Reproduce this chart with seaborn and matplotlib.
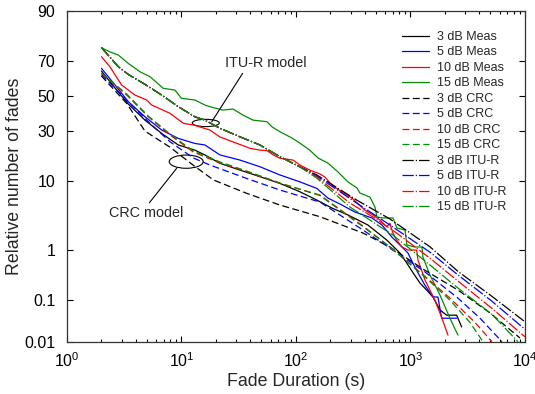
import math
from statistics import NormalDist
import numpy as np
import pandas as pd
import matplotlib
matplotlib.use("Agg")
import matplotlib.pyplot as plt
from matplotlib.patches import Ellipse
import seaborn as sns

# ---------------- data ----------------
# Fade duration (s) and relative number of fades (%)
meas3_x = [2.0, 2.63, 3.43, 4.80, 6.71, 9.38, 13.1, 16.0, 21.7, 32.4, 48.5, 72.4, 108, 152, 206, 285, 425, 620, 809, 926, 1058, 1211, 1385, 1573, 1811, 2070, 2533, 2800]
meas3_y = [64.6, 54.7, 45.1, 35.7, 28.5, 22.9, 20.6, 18.6, 15.4, 13.1, 11.1, 9.3, 7.37, 5.77, 4.5, 3.59, 2.55, 1.47, 0.88, 0.58, 0.37, 0.234, 0.167, 0.118, 0.061, 0.046, 0.046, 0.024]

meas5_x = [2.0, 2.63, 3.43, 4.80, 6.71, 9.38, 13.1, 16.0, 21.7, 32.4, 48.5, 72.4, 108, 152, 190, 252, 327, 461, 564, 689, 843, 951, 1094, 1339, 1573, 1739, 1873, 2533]
meas5_y = [66.1, 56.5, 46.5, 37.6, 30.3, 26.0, 23.6, 22.9, 18.6, 16.6, 14.2, 11.6, 9.7, 8.1, 6.13, 4.95, 3.96, 3.25, 2.55, 1.64, 1.12, 0.88, 0.48, 0.21, 0.12, 0.118, 0.039, 0.039]

meas10_x = [2.0, 2.37, 3.0, 3.92, 4.97, 5.49, 7.94, 10.4, 12.7, 17.7, 21.7, 28.3, 39.7, 48.5, 55.8, 63.4, 72.4, 94.2, 108, 132, 162, 179, 206, 252, 308, 401, 470, 542, 620, 662, 703, 757, 838, 951, 1133, 1163, 1339, 1637, 1884, 2127]
meas10_y = [72.3, 67.0, 56.5, 50.5, 47.5, 44.5, 39.6, 33.9, 33.0, 30.3, 26.7, 24.3, 21.4, 20.6, 20.4, 18.6, 17.3, 16.6, 14.8, 13.1, 11.9, 11.0, 8.9, 7.3, 6.13, 4.2, 3.59, 3.03, 2.4, 2.7, 1.91, 1.47, 1.13, 0.99, 0.99, 0.655, 0.27, 0.10, 0.039, 0.015]

meas15_x = [2.0, 2.37, 2.81, 3.43, 4.34, 5.31, 6.94, 8.77, 10.0, 13.1, 16.0, 17.7, 23.0, 28.2, 34.4, 42.1, 55.8, 61.7, 72.4, 92.3, 108, 132, 156, 169, 190, 233, 285, 341, 362, 443, 490, 510, 575, 703, 762, 896, 932, 1094, 1260, 1286, 1480, 1811, 2213, 2600]
meas15_y = [76.6, 74.7, 73.1, 68.8, 64.2, 61.4, 54.5, 53.5, 48.5, 47.5, 44.5, 43.5, 41.5, 42.1, 38.6, 35.7, 34.8, 32.0, 29.4, 26.2, 23.8, 20.6, 17.4, 16.6, 15.5, 12.5, 9.65, 8.2, 7.1, 6.3, 4.65, 3.36, 3.25, 3.25, 2.29, 2.13, 1.21, 1.12, 1.12, 0.74, 0.34, 0.131, 0.039, 0.015]

crc3_x = [2.0, 3.32, 4.80, 7.94, 12.6, 19.0, 37.1, 72.4, 162, 385, 662, 1339, 2600, 4947, 9040]
crc3_y = [61.8, 45.5, 29.7, 21.9, 14.8, 10.2, 7.04, 4.95, 3.39, 1.91, 1.12, 0.42, 0.167, 0.052, 0.0127]

crc5_x = [2.0, 3.32, 5.31, 7.94, 12.7, 17.7, 37.1, 72.4, 162, 385, 662, 1339, 2600, 4050, 6295]
crc5_y = [62.6, 47.5, 33.9, 24.4, 17.4, 14.8, 10.6, 7.74, 5.43, 2.13, 1.07, 0.39, 0.112, 0.039, 0.0102]

crc10_x = [2.0, 3.32, 5.13, 7.94, 12.7, 21.7, 37.1, 72.4, 162, 385, 662, 1339, 2213, 3657, 5150]
crc10_y = [63.2, 50.5, 37.6, 27.7, 19.8, 15.5, 12.6, 9.3, 6.7, 2.46, 1.12, 0.32, 0.112, 0.031, 0.0102]

crc15_x = [2.0, 3.32, 5.13, 7.94, 12.7, 21.7, 37.1, 72.4, 162, 385, 662, 1339, 2213, 3309, 4296]
crc15_y = [63.5, 51.1, 38.0, 28.2, 20.2, 15.9, 12.8, 9.4, 6.6, 2.4, 1.12, 0.31, 0.101, 0.031, 0.0102]

itu_common_x = [2.0, 2.81, 3.43, 4.80, 6.71, 9.38, 13.1, 16.0, 21.7, 32.4, 48.5, 72.4, 108]
itu_common_y = [76.7, 67.0, 62.7, 56.9, 50.5, 43.5, 37.6, 35.7, 31.2, 26.8, 22.9, 17.9, 14.2]

itu3_x = itu_common_x + [152, 339, 662, 1480, 2600, 5117, 10000]
itu3_y = itu_common_y + [11.6, 5.77, 3.14, 1.13, 0.40, 0.124, 0.032]

itu5_x = itu_common_x + [152, 339, 662, 1480, 2600, 5117, 10000]
itu5_y = itu_common_y + [11.3, 5.26, 2.55, 0.91, 0.34, 0.097, 0.021]

itu10_x = itu_common_x + [152, 296, 470, 757, 1480, 2600, 5117, 10000]
itu10_y = itu_common_y + [11.0, 5.26, 3.36, 1.91, 0.71, 0.257, 0.067, 0.0136]

itu15_x = itu_common_x + [152, 296, 470, 703, 1480, 2600, 5117, 8686]
itu15_y = itu_common_y + [10.7, 4.65, 2.83, 1.77, 0.53, 0.184, 0.049, 0.0102]

series_labels = ["3 dB Meas", "5 dB Meas", "10 dB Meas", "15 dB Meas",
                 "3 dB CRC", "5 dB CRC", "10 dB CRC", "15 dB CRC",
                 "3 dB ITU-R", "5 dB ITU-R", "10 dB ITU-R", "15 dB ITU-R"]
series_x = [meas3_x, meas5_x, meas10_x, meas15_x, crc3_x, crc5_x, crc10_x, crc15_x,
            itu3_x, itu5_x, itu10_x, itu15_x]
series_y = [meas3_y, meas5_y, meas10_y, meas15_y, crc3_y, crc5_y, crc10_y, crc15_y,
            itu3_y, itu5_y, itu10_y, itu15_y]

y_ticks = [0.01, 0.1, 1, 10, 30, 50, 70, 90]
y_tick_labels = ["0.01", "0.1", "1", "10", "30", "50", "70", "90"]

# annotations (data coordinates)
itu_text_pos = (54.5, 68.8)
itu_ellipse_center = (16.3, 34.1)
itu_leader = ([18.4, 34.2], [34.8, 63.3])
crc_text_pos = (4.88, 3.8)
crc_ellipse_center = (11.0, 16.0)
crc_leader = ([9.08, 5.24], [13.7, 5.3])

# ---------------- styling ----------------
sns.set_style("ticks")
plt.rcParams["font.family"] = ["Liberation Sans", "DejaVu Sans"]
plt.rcParams["mathtext.fontset"] = "custom"
plt.rcParams["mathtext.rm"] = "Liberation Sans"
plt.rcParams["mathtext.it"] = "Liberation Sans:italic"
plt.rcParams["mathtext.bf"] = "Liberation Sans:bold"

colors = ["#000000", "#0000ff", "#ff0000", "#008f00"]
solid = "-"
dashed = (0, (5.5, 2.8))
dashdot = (0, (9, 1.6, 1.0, 1.6))

_nd = NormalDist()
_ppf = np.vectorize(_nd.inv_cdf, otypes=[float])
_erf = np.vectorize(math.erf, otypes=[float])


def fwd(p):
    p = np.clip(np.asarray(p, dtype=float), 1e-7, 100 - 1e-7)
    return _ppf(p / 100.0)


def inv(z):
    z = np.asarray(z, dtype=float)
    return 100.0 * 0.5 * (1.0 + _erf(z / math.sqrt(2.0)))


fig = plt.figure(figsize=(5.35, 3.94), dpi=100)
ax = fig.add_axes([0.1252, 0.132, 0.856, 0.840])
ax.set_xscale("log")
ax.set_yscale("function", functions=(fwd, inv))

handles = []
for i, (lab, xs, ys) in enumerate(zip(series_labels, series_x, series_y)):
    group = i // 4
    col = colors[i % 4]
    ls = [solid, dashed, dashdot][group]
    df = pd.DataFrame({"d": xs, "p": ys})
    sns.lineplot(data=df, x="d", y="p", ax=ax, color=col, linestyle=ls,
                 linewidth=0.9, estimator=None, sort=False, label=lab, legend=False)
    handles.append(ax.get_lines()[-1])

ax.set_xlim(1, 1e4)
ax.set_ylim(0.01, 90)
ax.set_yticks(y_ticks)
ax.set_yticklabels(y_tick_labels)
ax.yaxis.set_minor_locator(matplotlib.ticker.NullLocator())
ax.xaxis.set_major_locator(matplotlib.ticker.LogLocator(base=10, numticks=10))
ax.xaxis.set_minor_locator(matplotlib.ticker.LogLocator(base=10, subs=np.arange(2, 10), numticks=50))

ax.tick_params(axis="both", which="both", direction="in", top=True, right=True,
               colors="#000000", labelcolor="#000000")
ax.tick_params(axis="both", which="major", length=4, width=0.8, labelsize=11.5)
ax.tick_params(axis="both", which="minor", length=2.5, width=0.8)
ax.tick_params(axis="y", which="major", pad=8.5)
ax.tick_params(axis="x", which="major", pad=7)
for sp in ax.spines.values():
    sp.set_linewidth(0.9)
    sp.set_color("#333333")

ax.set_xlabel("Fade Duration (s)", fontsize=12.8, labelpad=2)
ax.set_ylabel("Relative number of fades", fontsize=12.8, labelpad=1)

# annotations
ax.text(*itu_text_pos, "ITU-R model", fontsize=10.4, ha="center", va="center")
ax.text(*crc_text_pos, "CRC model", fontsize=10.4, ha="center", va="center")
ax.plot(*itu_leader, color="black", linewidth=0.8)
ax.plot(*crc_leader, color="black", linewidth=0.8)


def to_axes(pt):
    disp = ax.transData.transform(pt)
    return ax.transAxes.inverted().transform(disp)


for c, w, h in [(itu_ellipse_center, 0.059, 0.022), (crc_ellipse_center, 0.074, 0.040)]:
    ca = to_axes(c)
    ax.add_patch(Ellipse(ca, w, h, transform=ax.transAxes, fill=False,
                         edgecolor="black", linewidth=0.8))

leg = ax.legend(handles, series_labels, loc="upper left", bbox_to_anchor=(0.731, 0.940),
                frameon=False, fontsize=9, handlelength=2.2, handletextpad=0.6,
                labelspacing=0.28, borderpad=0, borderaxespad=0)

fig.savefig("out.png", dpi=100)
